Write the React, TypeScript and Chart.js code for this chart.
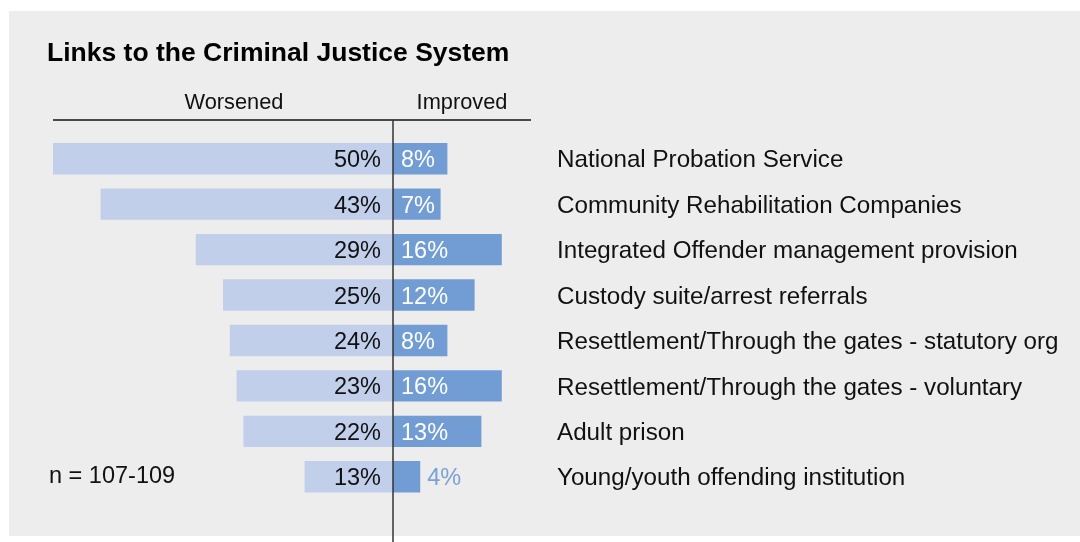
import React, { useEffect, useRef } from "react";
import { Chart, registerables } from "chart.js";

Chart.register(...registerables);

const categories = [
  "National Probation Service",
  "Community Rehabilitation Companies",
  "Integrated Offender management provision",
  "Custody suite/arrest referrals",
  "Resettlement/Through the gates - statutory org",
  "Resettlement/Through the gates - voluntary",
  "Adult prison",
  "Young/youth offending institution",
];
const worsened = [50, 43, 29, 25, 24, 23, 22, 13];
const improved = [8, 7, 16, 12, 8, 16, 13, 4];

const TITLE = "Links to the Criminal Justice System";
const HEAD_LEFT = "Worsened";
const HEAD_RIGHT = "Improved";
const NOTE = "n = 107-109";

const FONT = "'Liberation Sans', Arial, Helvetica, sans-serif";
const LIGHT = "#c1cfeb";
const DARK = "#729dd4";
const BG = "#ededed";

export default function App() {
  const ref = useRef<HTMLCanvasElement>(null);
  useEffect(() => {
    if (!ref.current) return;
    const decor = {
      id: "decor",
      beforeDraw(chart: any) {
        const { ctx } = chart;
        ctx.save();
        ctx.fillStyle = "#ffffff";
        ctx.fillRect(0, 0, chart.width, chart.height);
        ctx.fillStyle = BG;
        ctx.fillRect(9, 11, chart.width - 9, 525);
        ctx.restore();
      },
      afterDatasetsDraw(chart: any) {
        const { ctx, chartArea } = chart;
        const xs = chart.scales.x;
        const zero = xs.getPixelForValue(0);
        ctx.save();
        // title
        ctx.fillStyle = "#000";
        ctx.font = `bold 26.5px ${FONT}`;
        ctx.textAlign = "left";
        ctx.textBaseline = "alphabetic";
        ctx.fillText(TITLE, 47, 61);
        // headers
        ctx.font = `21.8px ${FONT}`;
        ctx.fillStyle = "#111";
        ctx.textAlign = "center";
        ctx.fillText(HEAD_LEFT, 234, 109);
        ctx.fillText(HEAD_RIGHT, (zero + chartArea.right) / 2 + 1, 109);
        // header line
        ctx.strokeStyle = "#111";
        ctx.lineWidth = 1.5;
        ctx.beginPath();
        ctx.moveTo(chartArea.left, 120);
        ctx.lineTo(chartArea.right + 2, 120);
        ctx.stroke();
        // zero line
        ctx.strokeStyle = "#333";
        ctx.beginPath();
        ctx.moveTo(zero, 120);
        ctx.lineTo(zero, chart.height);
        ctx.stroke();
        // note
        ctx.textAlign = "left";
        ctx.font = `23.5px ${FONT}`;
        ctx.fillStyle = "#111";
        ctx.fillText(NOTE, 49, 483);
        // value labels
        ctx.font = `23.5px ${FONT}`;
        ctx.textBaseline = "middle";
        const m0 = chart.getDatasetMeta(0);
        const m1 = chart.getDatasetMeta(1);
        worsened.forEach((v, i) => {
          const y = m0.data[i].y + 2;
          ctx.fillStyle = "#111";
          ctx.textAlign = "right";
          ctx.fillText(v + "%", zero - 12, y);
        });
        improved.forEach((v, i) => {
          const bar = m1.data[i];
          const y = bar.y + 2;
          const txt = v + "%";
          const w = ctx.measureText(txt).width;
          ctx.textAlign = "left";
          if (bar.x - zero > w + 12) {
            ctx.fillStyle = "#ffffff";
            ctx.fillText(txt, zero + 8, y);
          } else {
            ctx.fillStyle = "#7aa1d6";
            ctx.fillText(txt, bar.x + 7, y);
          }
        });
        ctx.restore();
      },
    };
    const chart = new Chart(ref.current, {
      type: "bar",
      data: {
        labels: categories,
        datasets: [
          {
            label: HEAD_LEFT,
            data: worsened.map((v) => -v),
            backgroundColor: LIGHT,
            barPercentage: 0.69,
            categoryPercentage: 1,
          },
          {
            label: HEAD_RIGHT,
            data: improved,
            backgroundColor: DARK,
            barPercentage: 0.69,
            categoryPercentage: 1,
          },
        ],
      },
      options: {
        indexAxis: "y",
        responsive: false,
        animation: false,
        events: [],
        layout: { padding: { left: 53, top: 136, bottom: 38, right: 0 } },
        plugins: {
          legend: { display: false },
          title: { display: false },
          tooltip: { enabled: false },
        },
        scales: {
          x: {
            display: false,
            stacked: true,
            min: -50,
            max: 20,
          },
          y: {
            position: "right",
            stacked: true,
            grid: { display: false, drawTicks: false },
            border: { display: false },
            ticks: {
              padding: 28,
              labelOffset: 2,
              color: "#111",
              font: { family: FONT, size: 24.2 },
            },
            afterFit(scale: any) {
              scale.width = 1080 - 529;
            },
          },
        },
      },
      plugins: [decor],
    });
    return () => chart.destroy();
  }, []);
  return (
    <div style={{ position: "fixed", left: 0, top: 0, width: 1080, height: 542 }}>
      <canvas ref={ref} width={1080} height={542} style={{ display: "block" }} />
    </div>
  );
}
